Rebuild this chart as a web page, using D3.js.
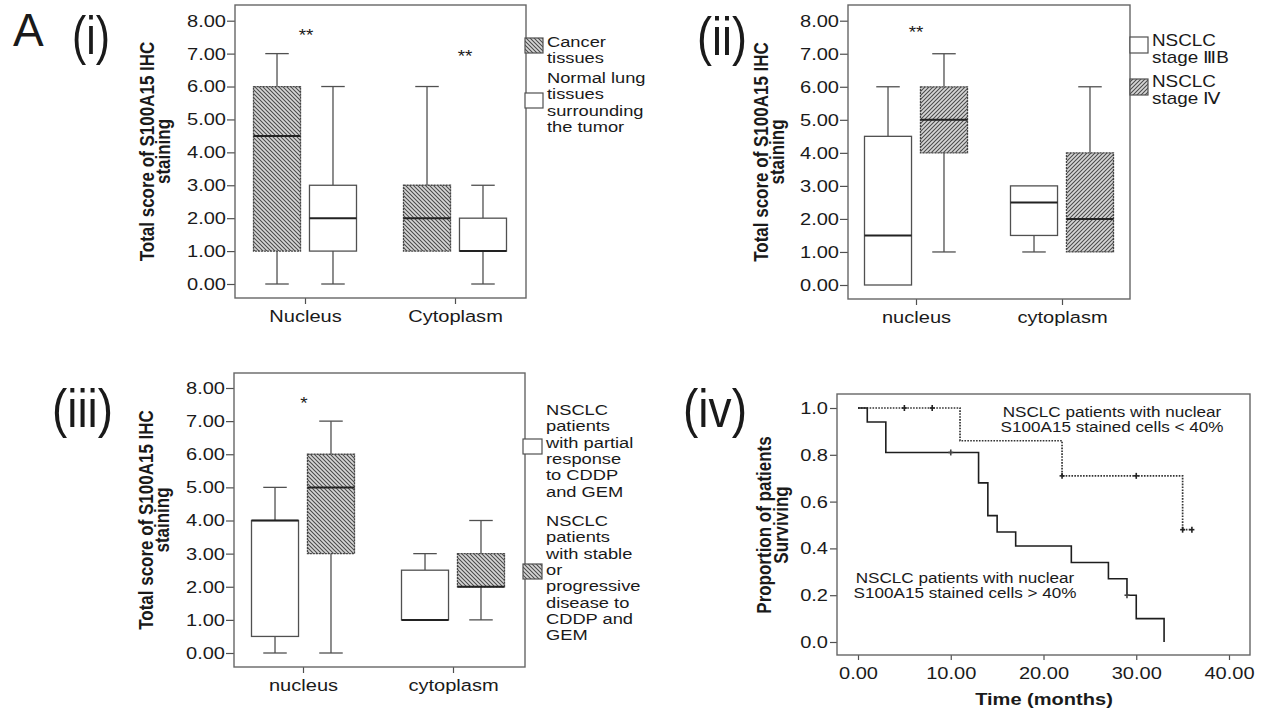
<!DOCTYPE html>
<html>
<head>
<meta charset="utf-8">
<script src="https://cdn.jsdelivr.net/npm/d3@7"></script>
<style>
  body { margin: 0; background: #fff; }
  svg { display: block; }
  text { font-family: "Liberation Sans", Arial, Helvetica, sans-serif; fill: #1a1a1a; }
</style>
</head>
<body>
<svg id="fig" width="1280" height="712"></svg>
<script>
// ---------- data ----------
const sitesUpper = ["Nucleus", "Cytoplasm"];
const sitesLower = ["nucleus", "cytoplasm"];
const scoreTicks = [0, 1, 2, 3, 4, 5, 6, 7, 8];

// five-number summaries per site: [min, q1, median, q3, max]
const cancerTissue      = [[0, 1, 4.5, 6, 7], [1, 1, 2, 3, 6]];
const normalTissue      = [[0, 1, 2, 3, 6],   [0, 1, 1, 2, 3]];
const stageIIIB         = [[0, 0, 1.5, 4.5, 6], [1, 1.5, 2.5, 3, 3]];
const stageIV           = [[1, 4, 5, 6, 7],   [1, 1, 2, 4, 6]];
const partialResponse   = [[0, 0.5, 4, 4, 5], [1, 1, 1, 2.5, 3]];
const stableProgressive = [[0, 3, 5, 6, 7],   [1, 2, 2, 3, 4]];

// significance marks per site
const sigMarks1 = ["**", "**"];
const sigMarks2 = ["**", ""];
const sigMarks3 = ["*", ""];

const legendTissue = [["Cancer", "tissues"], ["Normal lung", "tissues", "surrounding", "the tumor"]];
const legendStage = [["NSCLC", "stage  \u2162B"], ["NSCLC", "stage \u2163"]];
const legendResponse = [
  ["NSCLC", "patients", "with partial", "response", "to CDDP", "and GEM"],
  ["NSCLC", "patients", "with stable", "or", "progressive", "disease to", "CDDP and", "GEM"]
];

// Kaplan-Meier estimates
const monthsHigh = [0, 1, 3, 13, 14, 15, 17, 23, 27, 29, 30, 33];
const survivalHigh = [1, 0.94, 0.81, 0.68, 0.54, 0.47, 0.41, 0.34, 0.27, 0.20, 0.10, 0];
const censorMonthsHigh = [10, 29];
const censorSurvivalHigh = [0.81, 0.20];
const monthsLow = [0, 11, 22, 35, 36];
const survivalLow = [1, 0.86, 0.71, 0.48, 0.48];
const censorMonthsLow = [5, 8, 22, 30, 35, 36];
const censorSurvivalLow = [1, 1, 0.71, 0.71, 0.48, 0.48];
const survivalTicks = [0, 0.2, 0.4, 0.6, 0.8, 1.0];
const timeTicks = [0, 10, 20, 30, 40];
const labelHigh = ["NSCLC patients with nuclear", "S100A15 stained cells > 40%"];
const labelLow = ["NSCLC patients with nuclear", "S100A15 stained cells < 40%"];

// ---------- drawing ----------
const SX = 1.18;              // horizontal widening of chart lettering
const FONT = "Liberation Sans, Arial, Helvetica, sans-serif";
const FRAME = "#666";
const INK = "#505050";
const svg = d3.select("#fig");

// hatch fills
const defs = svg.append("defs");
function hatch(id, forward) {
  const p = defs.append("pattern").attr("id", id).attr("patternUnits", "userSpaceOnUse")
    .attr("width", 4).attr("height", 4);
  p.append("rect").attr("width", 4).attr("height", 4).attr("fill", "#d6d6d6");
  p.append("path")
    .attr("d", forward ? "M-1,1 l2,-2 M0,4 l4,-4 M3,5 l2,-2" : "M-1,3 l2,2 M0,0 l4,4 M3,-1 l2,2")
    .attr("stroke", "#4a4a4a").attr("stroke-width", 1.05);
}
hatch("hatchBack", false);
hatch("hatchFwd", true);

function wideText(g, x, y, str, size, opts = {}) {
  return g.append("text")
    .attr("transform", `translate(${x},${y}) scale(${SX},1)`)
    .attr("font-size", size)
    .attr("font-weight", opts.bold ? "bold" : null)
    .attr("text-anchor", opts.anchor || "start")
    .text(str);
}

function verticalTitle(g, baseX, cy, str, size) {
  return g.append("text")
    .attr("transform", `translate(${baseX},${cy}) scale(${SX},1) rotate(-90)`)
    .attr("font-size", size).attr("font-weight", "bold")
    .attr("text-anchor", "middle").text(str);
}

function styleAxis(a, size) {
  a.attr("font-family", FONT).attr("font-size", size);
  a.select(".domain").remove();
  a.selectAll(".tick line").attr("stroke", INK).attr("stroke-width", 1.2);
  a.selectAll(".tick text").attr("fill", "#1a1a1a").each(function () {
    const t = d3.select(this);
    const x = +t.attr("x") || 0;
    t.attr("x", x / SX).attr("transform", `scale(${SX},1)`);
  });
}

function panelLabel(x, y, str, length) {
  svg.append("text").attr("x", x).attr("y", y)
    .attr("font-size", 54).attr("fill", "#000")
    .attr("textLength", length).attr("lengthAdjust", "spacingAndGlyphs")
    .text(str);
}

function boxPanel(cfg) {
  const g = svg.append("g");
  const [fx0, fx1, fy0, fy1] = cfg.frame;
  const y = d3.scaleLinear().domain([0, 8]).range([cfg.yZero, cfg.yTop]);
  const x = d3.scalePoint().domain(cfg.sites).range(cfg.centers);
  const inner = d3.scaleBand().domain(d3.range(cfg.series.length)).range([-51.5, 51.5]).paddingInner(0.16);
  const bw = inner.bandwidth();

  const ya = g.append("g").attr("transform", `translate(${fx0},0)`)
    .call(d3.axisLeft(y).tickValues(scoreTicks).tickFormat(d3.format(".2f")).tickSize(8).tickPadding(1));
  styleAxis(ya, 17);
  const xa = g.append("g").attr("transform", `translate(0,${fy1})`)
    .call(d3.axisBottom(x).tickSize(6).tickPadding(6));
  styleAxis(xa, 17);

  cfg.series.forEach((s, si) => {
    s.values.forEach((v, ci) => {
      const cx = x(cfg.sites[ci]) + inner(si) + bw / 2;
      const [mn, q1, md, q3, mx] = v;
      const wg = g.append("g").attr("stroke", INK).attr("stroke-width", 1.3).attr("fill", "none");
      if (mx > q3) {
        wg.append("line").attr("x1", cx).attr("x2", cx).attr("y1", y(q3)).attr("y2", y(mx));
        wg.append("line").attr("x1", cx - bw / 4).attr("x2", cx + bw / 4).attr("y1", y(mx)).attr("y2", y(mx));
      }
      if (mn < q1) {
        wg.append("line").attr("x1", cx).attr("x2", cx).attr("y1", y(q1)).attr("y2", y(mn));
        wg.append("line").attr("x1", cx - bw / 4).attr("x2", cx + bw / 4).attr("y1", y(mn)).attr("y2", y(mn));
      }
      g.append("rect").attr("x", cx - bw / 2).attr("y", y(q3))
        .attr("width", bw).attr("height", y(q1) - y(q3))
        .attr("fill", s.fill).attr("stroke", s.fill === "#fff" ? INK : "#474747")
        .attr("stroke-width", 1.3)
        .attr("stroke-dasharray", s.fill === "#fff" ? null : "2.2,0.8");
      g.append("line").attr("x1", cx - bw / 2).attr("x2", cx + bw / 2)
        .attr("y1", y(md)).attr("y2", y(md)).attr("stroke", "#222").attr("stroke-width", 2);
    });
  });

  cfg.marks.forEach((m, ci) => {
    if (!m) return;
    wideText(g, x(cfg.sites[ci]) + cfg.markShift[ci], y(cfg.markLevel[ci]), m, 16, { anchor: "middle" });
  });

  g.append("rect").attr("x", fx0).attr("y", fy0).attr("width", fx1 - fx0).attr("height", fy1 - fy0)
    .attr("fill", "none").attr("stroke", FRAME).attr("stroke-width", 1.4);

  cfg.titleX.forEach((bx, i) => verticalTitle(g, bx, (fy0 + fy1) / 2, cfg.title[i], 17));

  const L = cfg.legend;
  cfg.series.forEach((s, si) => {
    g.append("rect").attr("x", L.x).attr("y", L.swatchTop[si]).attr("width", L.w).attr("height", L.h)
      .attr("fill", s.fill).attr("stroke", INK).attr("stroke-width", 1.2);
    s.legend.forEach((line, li) => {
      wideText(g, L.textX, L.firstBase[si] + li * L.pitch, line, L.size);
    });
  });
}

const scoreTitle = ["Total score of S100A15 IHC", "staining"];

// (i) cancer vs normal tissue
boxPanel({
  frame: [235, 526, 5, 298], yZero: 284, yTop: 20.7, centers: [305, 455],
  sites: sitesUpper,
  series: [
    { values: cancerTissue, fill: "url(#hatchBack)", legend: legendTissue[0] },
    { values: normalTissue, fill: "#fff", legend: legendTissue[1] }
  ],
  marks: sigMarks1, markLevel: [7.38, 6.74], markShift: [1, 10],
  title: scoreTitle, titleX: [154, 170],
  legend: { x: 525, w: 18, h: 15, textX: 547, swatchTop: [38, 93], firstBase: [47, 83], pitch: 16.4, size: 15.5 }
});

// (ii) stage IIIB vs stage IV
boxPanel({
  frame: [848, 1130, 5, 299], yZero: 285, yTop: 20.7, centers: [916, 1062],
  sites: sitesLower,
  series: [
    { values: stageIIIB, fill: "#fff", legend: legendStage[0] },
    { values: stageIV, fill: "url(#hatchFwd)", legend: legendStage[1] }
  ],
  marks: sigMarks2, markLevel: [7.48, 0], markShift: [0, 0],
  title: scoreTitle, titleX: [768, 784],
  legend: { x: 1130, w: 18, h: 16, textX: 1152, swatchTop: [37, 79], firstBase: [46, 87], pitch: 16.8, size: 16 }
});

// (iii) chemotherapy response
boxPanel({
  frame: [234, 525, 373, 667], yZero: 653, yTop: 388, centers: [303, 453],
  sites: sitesLower,
  series: [
    { values: partialResponse, fill: "#fff", legend: legendResponse[0] },
    { values: stableProgressive, fill: "url(#hatchBack)", legend: legendResponse[1] }
  ],
  marks: sigMarks3, markLevel: [7.37, 0], markShift: [1, 0],
  title: scoreTitle, titleX: [153, 169],
  legend: { x: 523, w: 19, h: 15, textX: 546, swatchTop: [439, 564], firstBase: [415, 526], pitch: 16.3, size: 15.5 }
});

// (iv) survival curves
(function () {
  const g = svg.append("g");
  const fx0 = 837, fx1 = 1250, fy0 = 394, fy1 = 655;
  const xs = d3.scaleLinear().domain([0, 40]).range([858, 1229]);
  const ys = d3.scaleLinear().domain([0, 1]).range([642, 408]);

  const ya = g.append("g").attr("transform", `translate(${fx0},0)`)
    .call(d3.axisLeft(ys).tickValues(survivalTicks).tickFormat(d3.format(".1f")).tickSize(7).tickPadding(2));
  styleAxis(ya, 17);
  const xa = g.append("g").attr("transform", `translate(0,${fy1})`)
    .call(d3.axisBottom(xs).tickValues(timeTicks).tickFormat(d3.format(".2f")).tickSize(5).tickPadding(7));
  styleAxis(xa, 17);

  const step = d3.line().x(d => xs(d[0])).y(d => ys(d[1])).curve(d3.curveStepAfter);
  g.append("path").attr("d", step(d3.zip(monthsLow, survivalLow)))
    .attr("fill", "none").attr("stroke", "#333").attr("stroke-width", 1.7).attr("stroke-dasharray", "1.6,1.3");
  g.append("path").attr("d", step(d3.zip(monthsHigh, survivalHigh)))
    .attr("fill", "none").attr("stroke", "#1e1e1e").attr("stroke-width", 1.6);

  function censor(ts, ss, color) {
    d3.zip(ts, ss).forEach(([t, s]) => {
      g.append("line").attr("x1", xs(t)).attr("x2", xs(t)).attr("y1", ys(s) - 3).attr("y2", ys(s) + 3)
        .attr("stroke", color).attr("stroke-width", 1.6);
      g.append("line").attr("x1", xs(t) - 2.5).attr("x2", xs(t) + 2.5).attr("y1", ys(s)).attr("y2", ys(s))
        .attr("stroke", color).attr("stroke-width", 1.6);
    });
  }
  censor(censorMonthsLow, censorSurvivalLow, "#222");
  censor(censorMonthsHigh, censorSurvivalHigh, "#444");

  g.append("rect").attr("x", fx0).attr("y", fy0).attr("width", fx1 - fx0).attr("height", fy1 - fy0)
    .attr("fill", "none").attr("stroke", FRAME).attr("stroke-width", 1.4);

  labelLow.forEach((s, i) => wideText(g, 1112, 417 + i * 15, s, 14.5, { anchor: "middle" }));
  labelHigh.forEach((s, i) => wideText(g, 965, 583 + i * 15, s, 14.5, { anchor: "middle" }));

  wideText(g, 1044, 705, "Time (months)", 17, { bold: true, anchor: "middle" });
  verticalTitle(g, 771, 525, "Proportion of patients", 17);
  verticalTitle(g, 788, 525, "Surviving", 17);
})();

// panel letters
svg.append("text").attr("x", 13).attr("y", 46).attr("font-size", 46).attr("fill", "#000").text("A");
panelLabel(72, 54, "(i)", 38);
panelLabel(697, 55, "(ii)", 50);
panelLabel(52, 427, "(iii)", 61);
panelLabel(683, 427, "(iv)", 64);
</script>
</body>
</html>
